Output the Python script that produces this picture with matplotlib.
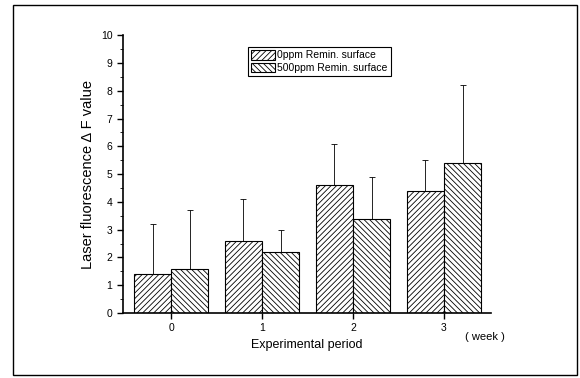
import matplotlib
matplotlib.use("Agg")
import matplotlib.pyplot as plt
import numpy as np
from matplotlib.patches import Rectangle

plt.rcParams['font.family'] = ['Liberation Sans', 'DejaVu Sans']
plt.rcParams['hatch.linewidth'] = 0.6

weeks = [0, 1, 2, 3]
labels = ["0ppm Remin. surface", "500ppm Remin. surface"]
mean_0ppm = [1.4, 2.6, 4.6, 4.4]
err_0ppm = [1.8, 1.5, 1.5, 1.1]
mean_500ppm = [1.6, 2.2, 3.4, 5.4]
err_500ppm = [2.1, 0.8, 1.5, 2.8]

fig = plt.figure(figsize=(5.8, 3.78), dpi=100)
ax = fig.add_axes([0.212, 0.172, 0.635, 0.735])

# outer frame around the whole plot
fig.patches.append(Rectangle((0.022, 0.008), 0.973, 0.98, transform=fig.transFigure,
                             fill=False, edgecolor="black", linewidth=1.0))

x = np.array(weeks)
w = 0.41
ax.bar(x - w / 2, mean_0ppm, w, yerr=[np.zeros(4), err_0ppm], color="white",
       edgecolor="black", hatch="//////", linewidth=0.8, label=labels[0],
       error_kw=dict(ecolor="black", elinewidth=0.6, capsize=2, capthick=0.6))
ax.bar(x + w / 2, mean_500ppm, w, yerr=[np.zeros(4), err_500ppm], color="white",
       edgecolor="black", hatch="\\\\\\\\\\\\", linewidth=0.8, label=labels[1],
       error_kw=dict(ecolor="black", elinewidth=0.6, capsize=2, capthick=0.6))

ax.set_xlim(-0.53, 3.52)
ax.set_ylim(0, 10)
ax.set_xticks(weeks)
ax.set_yticks(range(0, 11))
ax.set_yticks(np.arange(0.5, 10, 1), minor=True)
ax.tick_params(axis="both", labelsize=7.5, width=1, length=4)
ax.tick_params(axis="y", which="minor", length=2)
for s in ["top", "right"]:
    ax.spines[s].set_visible(False)
ax.spines["left"].set_linewidth(1.2)
ax.spines["bottom"].set_linewidth(1.2)

ax.set_ylabel("Laser fluorescence \u0394 F value", fontsize=10.5)
ax.set_xlabel("Experimental period", fontsize=9, labelpad=4)
ax.text(3.45, -0.85, "( week )", fontsize=8, ha="center", va="center")

leg = ax.legend(loc="upper left", bbox_to_anchor=(0.34, 0.957), fontsize=7.5,
                frameon=True, fancybox=False, edgecolor="black", framealpha=1,
                handlelength=2.3, handleheight=1.0, handletextpad=0.2,
                borderpad=0.3, labelspacing=0.2, borderaxespad=0)
leg.get_frame().set_linewidth(0.8)

fig.savefig("out.png", dpi=100)
